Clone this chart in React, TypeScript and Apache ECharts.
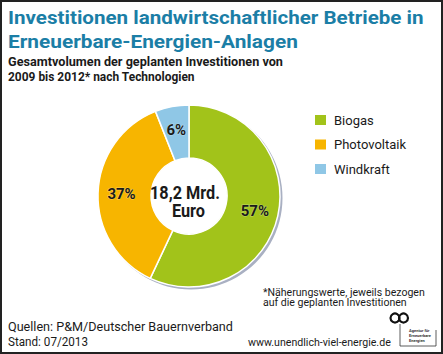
import React, { useEffect, useRef } from "react";
import * as echarts from "echarts";

const categories = ["Biogas", "Photovoltaik", "Windkraft"];
const shares = [57, 37, 6];
const colors = ["#a2c31a", "#f7b500", "#8fc7e6"];
const titleLines = [
  "Investitionen landwirtschaftlicher Betriebe in",
  "Erneuerbare-Energien-Anlagen",
];
const subtitleLines = [
  "Gesamtvolumen der geplanten Investitionen von",
  "2009 bis 2012* nach Technologien",
];
const centerLines = ["18,2 Mrd.", "Euro"];
const noteLines = [
  "*Näherungswerte, jeweils bezogen",
  "auf die geplanten Investitionen",
];
const sourceLines = ["Quellen: P&M/Deutscher Bauernverband", "Stand: 07/2013"];
const website = "www.unendlich-viel-energie.de";
const logoLines = ["Agentur für", "Erneuerbare", "Energien"];

const FONT = "Roboto, 'Open Sans', sans-serif";

function fitScale(text: string, font: string, target: number): number {
  const ctx = document.createElement("canvas").getContext("2d");
  if (!ctx) return 1;
  ctx.font = font;
  const w = ctx.measureText(text).width;
  return w > 0 ? target / w : 1;
}

function fitText(
  text: string,
  x: number,
  y: number,
  size: number,
  weight: string,
  color: string,
  target: number,
  align: string = "left"
) {
  const sx = fitScale(text, `${weight} ${size}px Roboto`, target);
  return {
    type: "text",
    x,
    y,
    scaleX: sx,
    z: 5,
    style: {
      text,
      fill: color,
      font: `${weight} ${size}px ${FONT}`,
      align,
      verticalAlign: "middle",
    },
  };
}

export default function App() {
  const ref = useRef<HTMLDivElement>(null);
  useEffect(() => {
    if (!ref.current) return;
    const chart = echarts.init(ref.current, undefined, { renderer: "svg" });
    const cx = 189;
    const cy = 196;
    const titleColor = "#1b7ea6";
    const graphic: any[] = [
      {
        type: "rect",
        shape: { x: 1, y: 1, width: 441, height: 352 },
        style: { fill: "none", stroke: "#222", lineWidth: 2 },
        z: 10,
      },
      {
        type: "ring",
        shape: { cx: cx + 2, cy: cy + 2, r: 91.5, r0: 45 },
        style: { fill: "#a9b0c2" },
        z: 0,
      },
      fitText(titleLines[0], 8, 17.7, 18, "bold", titleColor, 416),
      fitText(titleLines[1], 8, 42.3, 18, "bold", titleColor, 290),
      fitText(subtitleLines[0], 8, 62.5, 12, "bold", "#1a1a1a", 275),
      fitText(subtitleLines[1], 8, 77, 12, "bold", "#1a1a1a", 187),
      fitText(centerLines[0], 185, 193, 17.5, "bold", "#1a1a1a", 70, "center"),
      fitText(centerLines[1], 188.5, 211, 17.5, "bold", "#1a1a1a", 33, "center"),
      fitText(noteLines[0], 263, 292, 11, "normal", "#1a1a1a", 162),
      fitText(noteLines[1], 263, 302.5, 11, "normal", "#1a1a1a", 144),
      fitText(sourceLines[0], 8, 326, 13, "normal", "#1a1a1a", 225),
      fitText(sourceLines[1], 8, 342, 13, "normal", "#1a1a1a", 80),
      fitText(website, 248, 342, 11, "normal", "#1a1a1a", 143),
      {
        type: "circle",
        shape: { cx: 395, cy: 318, r: 4.5 },
        style: { fill: "none", stroke: "#111", lineWidth: 2.2 },
      },
      {
        type: "circle",
        shape: { cx: 403.5, cy: 318, r: 4.5 },
        style: { fill: "none", stroke: "#111", lineWidth: 2.2 },
      },
      {
        type: "polyline",
        shape: {
          points: [
            [400, 324],
            [400, 346],
            [436, 346],
            [436, 330],
          ],
        },
        style: { fill: "none", stroke: "#333", lineWidth: 0.8 },
      },
      ...logoLines.map((t, i) => ({
        type: "text",
        x: 409,
        y: 330 + i * 5,
        style: {
          text: t,
          fill: "#333",
          font: `bold 4px ${FONT}`,
          verticalAlign: "middle",
        },
      })),
    ];

    chart.setOption({
      animation: false,
      backgroundColor: "#ffffff",
      color: colors,
      legend: {
        orient: "vertical",
        left: 313,
        top: 113,
        padding: 0,
        itemWidth: 13,
        itemHeight: 12,
        itemGap: 10.5,
        icon: "rect",
        selectedMode: false,
        data: categories,
        textStyle: {
          fontFamily: FONT,
          fontSize: 13,
          color: "#1a1a1a",
          lineHeight: 12,
          padding: [0, 0, 0, 2],
        },
      },
      graphic,
      series: [
        {
          type: "pie",
          center: [cx, cy],
          radius: [38, 91],
          startAngle: 90,
          clockwise: true,
          z: 2,
          silent: true,
          itemStyle: { borderColor: "#ffffff", borderWidth: 1.5 },
          label: {
            show: true,
            position: "inside",
            formatter: "{c}%",
            fontFamily: FONT,
            fontWeight: "bold",
            fontSize: 15,
            color: "#1a1a1a",
            textBorderColor: "rgba(255,255,255,0.35)",
            textBorderWidth: 1,
          },
          labelLine: { show: false },
          data: categories.map((name, i) => ({ name, value: shares[i] })),
        },
      ],
    });
    return () => chart.dispose();
  }, []);
  return (
    <div
      ref={ref}
      style={{ position: "absolute", left: 0, top: 0, width: 443, height: 354 }}
    />
  );
}
